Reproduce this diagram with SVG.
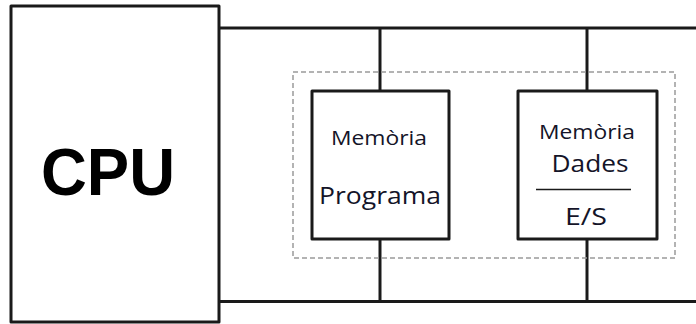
<svg xmlns="http://www.w3.org/2000/svg" width="696" height="324" viewBox="0 0 696 324">
<style>
.box{fill:#fff;stroke:#1a1a1a;stroke-width:3;stroke-linejoin:round}
.bus{stroke:#1a1a1a;stroke-width:3;fill:none}
.dash{fill:none;stroke:#9a9a9a;stroke-width:1.5;stroke-dasharray:5 3}
.lbl{font-family:"Open Sans","Noto Sans",sans-serif;fill:#141428;text-anchor:middle}
.cpu{font-family:"Liberation Sans",Arial,sans-serif;font-weight:bold;fill:#000;text-anchor:middle}
</style>
<rect width="696" height="324" fill="#fff"/>
<g id="connectors">
<line class="bus" x1="219" y1="28" x2="696" y2="28"/>
<line class="bus" x1="219" y1="301.5" x2="696" y2="301.5"/>
<line class="bus" x1="380" y1="28" x2="380" y2="91"/>
<line class="bus" x1="380" y1="239" x2="380" y2="301.5"/>
<line class="bus" x1="587" y1="28" x2="587" y2="91"/>
<line class="bus" x1="587" y1="239" x2="587" y2="301.5"/>
</g>
<g id="memory-group">
<rect class="dash" x="293" y="72" width="382" height="186"/>
</g>
<g id="cpu">
<rect class="box" x="11" y="6" width="208" height="316"/>
<text class="cpu" x="108" y="195" font-size="67" textLength="134" lengthAdjust="spacingAndGlyphs">CPU</text>
</g>
<g id="program-memory">
<rect class="box" x="312" y="91" width="137" height="148"/>
<text class="lbl" x="379" y="145" font-size="20" textLength="96" lengthAdjust="spacingAndGlyphs">Memòria</text>
<text class="lbl" x="380" y="204" font-size="23" textLength="122" lengthAdjust="spacingAndGlyphs">Programa</text>
</g>
<g id="data-memory">
<rect class="box" x="518" y="91" width="139" height="148"/>
<text class="lbl" x="587" y="139" font-size="20" textLength="96" lengthAdjust="spacingAndGlyphs">Memòria</text>
<text class="lbl" x="590" y="172" font-size="23" textLength="77" lengthAdjust="spacingAndGlyphs">Dades</text>
<line x1="536" y1="189.5" x2="631" y2="189.5" stroke="#1a1a1a" stroke-width="1.6"/>
<text class="lbl" x="586" y="225" font-size="23" textLength="42" lengthAdjust="spacingAndGlyphs">E/S</text>
</g>
</svg>
